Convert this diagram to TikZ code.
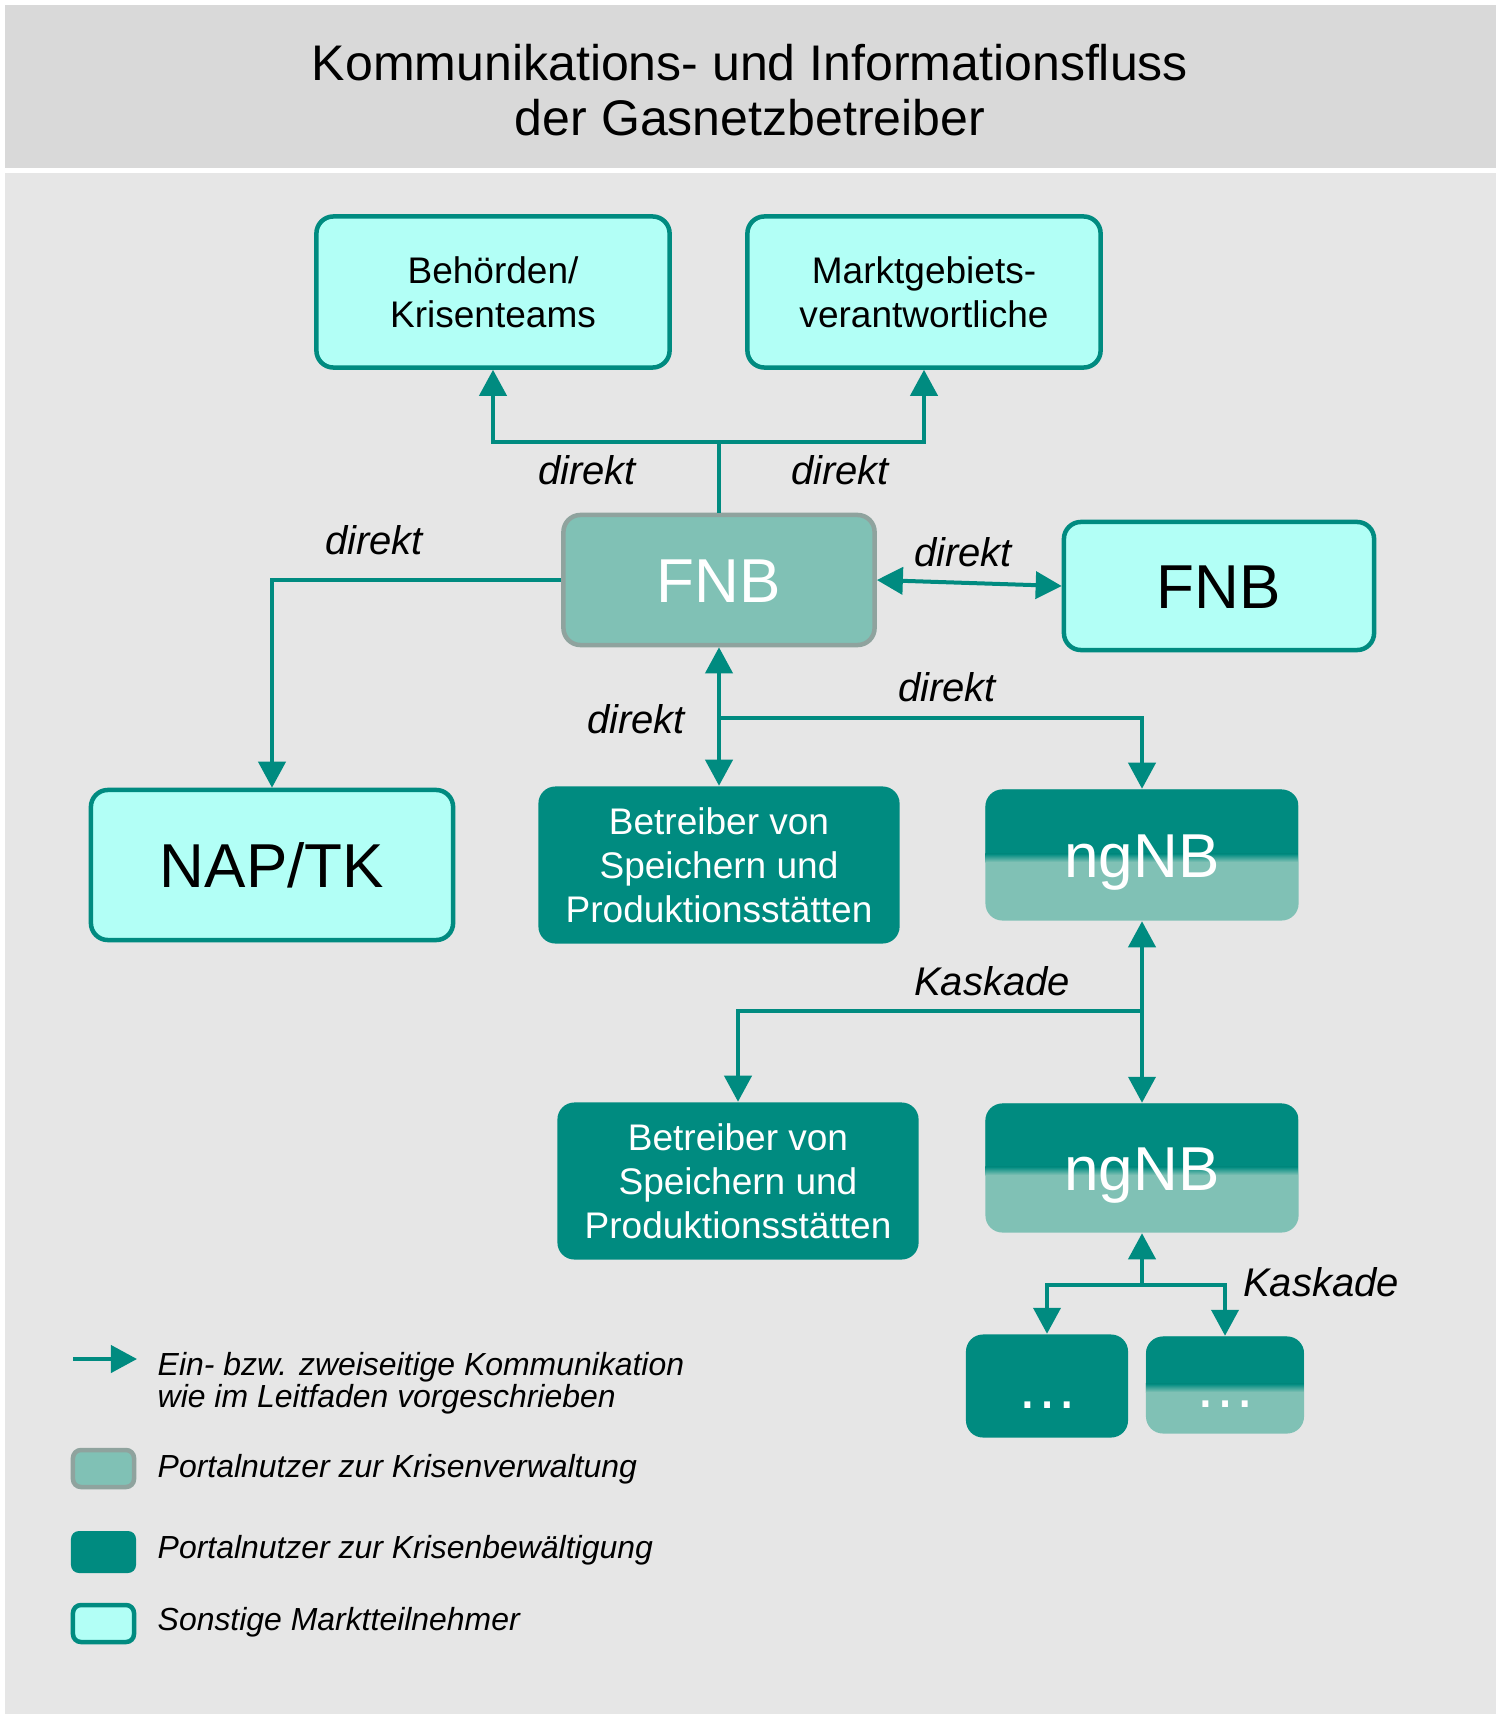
\documentclass[tikz,border=0pt]{standalone}
\usepackage{fontspec}
\setmainfont{Liberation Sans}
\usetikzlibrary{arrows.meta}

\definecolor{tealdark}{RGB}{0,139,128}
\definecolor{teallight}{RGB}{128,193,181}
\definecolor{cyanfill}{RGB}{178,255,246}
\definecolor{graybord}{RGB}{143,163,158}
\definecolor{bgmain}{RGB}{230,230,230}
\definecolor{bgtitle}{RGB}{217,217,217}

\begin{document}
\begin{tikzpicture}[x=0.01cm,y=-0.01cm,
  box/.style={rounded corners=0.17cm, inner sep=0pt, align=center,
    font=\fontsize{10.53}{12.52}\selectfont},
  other/.style={box, draw=tealdark, line width=0.045cm, fill=cyanfill, text=black},
  admin/.style={box, draw=graybord, line width=0.045cm, fill=teallight, text=white},
  crisis/.style={box, fill=tealdark, text=white},
  mixed/.style={box, fill=teallight, text=white,
    path picture={
      \fill[tealdark, sharp corners] (path picture bounding box.north west) rectangle ([yshift=0.01cm]path picture bounding box.east);
      \shade[top color=tealdark, bottom color=teallight, sharp corners] ([yshift=0.012cm]path picture bounding box.west) rectangle ([yshift=-0.07cm]path picture bounding box.east);
    }},
  big/.style={font=\fontsize{17.64}{20}\selectfont, text height=0.444cm, text depth=0pt},
  lbl/.style={font=\fontsize{11.38}{13}\selectfont\itshape, inner sep=0pt},
  legtext/.style={font=\fontsize{9.08}{9.1}\selectfont\itshape, inner sep=0pt, align=left},
  flow/.style={draw=tealdark, line width=0.04cm},
  >={Triangle[length=0.26cm,width=0.27cm]}
]
  % background and title
  \fill[white] (0,0) rectangle (1501,1719);
  \fill[bgtitle] (5,5) rectangle (1496,168);
  \fill[bgmain] (5,173) rectangle (1496,1714);
  \node[align=center, font=\fontsize{14.23}{15.65}\selectfont] (title) at (750,90)
    {Kommunikations- und Informationsfluss\\der Gasnetzbetreiber};

  % boxes
  \node[other, minimum width=3.53cm, minimum height=1.51cm] (behoerden) at (493,292) {Behörden/\\Krisenteams};
  \node[other, minimum width=3.53cm, minimum height=1.51cm] (mgv) at (924,292) {Marktgebiets-\\verantwortliche};
  \node[admin, big, minimum width=3.11cm, minimum height=1.30cm] (fnb) at (719,580) {FNB};
  \node[other, big, minimum width=3.10cm, minimum height=1.28cm] (fnbr) at (1219,586) {FNB};
  \node[other, big, minimum width=3.62cm, minimum height=1.50cm] (nap) at (272,865) {NAP/TK};
  \node[crisis, minimum width=3.61cm, minimum height=1.57cm] (spei1) at (719,865) {Betreiber von\\Speichern und\\Produktionsstätten};
  \node[mixed, big, minimum width=3.13cm, minimum height=1.31cm] (ngnb1) at (1142,855) {ngNB};
  \node[crisis, minimum width=3.61cm, minimum height=1.57cm] (spei2) at (738,1181) {Betreiber von\\Speichern und\\Produktionsstätten};
  \node[mixed, big, minimum width=3.13cm, minimum height=1.29cm] (ngnb2) at (1142,1168) {ngNB};
  \node[crisis, big, minimum width=1.62cm, minimum height=1.03cm] (dots1) at (1047,1386) {…};
  \node[mixed, big, minimum width=1.58cm, minimum height=0.97cm] (dots2) at (1225,1385) {…};

  % connectors
  \coordinate (jtop) at (719,442);
  \draw[flow,->] (fnb.north) -- (jtop) -| (behoerden.south);
  \draw[flow,->] (jtop) -| (mgv.south);
  \draw[flow,->] (fnb.west) -| (nap.north);
  \draw[flow,<->] (fnb.east) -- (fnbr.west);
  \draw[flow,<->] (fnb.south) -- (spei1.north);
  \coordinate (jmid) at (719,718);
  \draw[flow,->] (jmid) -| (ngnb1.north);
  \coordinate (jk1) at (1142,1011);
  \draw[flow,->] (jk1) -- (ngnb1.south);
  \draw[flow,->] (jk1) -- (ngnb2.north);
  \draw[flow,->] (jk1) -| (spei2.north);
  \coordinate (jk2) at (1142,1285);
  \draw[flow,->] (jk2) -- (ngnb2.south);
  \draw[flow,->] (jk2) -| (dots1.north);
  \draw[flow,->] (jk2) -| (dots2.north);

  % labels
  \node[lbl] (d1) at (587,470) {direkt};
  \node[lbl] (d2) at (840,470) {direkt};
  \node[lbl] (d3) at (374,540) {direkt};
  \node[lbl] (d4) at (963,552) {direkt};
  \node[lbl] (d5) at (636,719) {direkt};
  \node[lbl] (d6) at (947,687) {direkt};
  \node[lbl] (k1) at (992,981) {Kaskade};
  \node[lbl] (k2) at (1321,1282) {Kaskade};

  % legend
  \coordinate (lgs) at (73,1359);
  \coordinate (lge) at (137,1359);
  \draw[flow,->] (lgs) -- (lge);
  \node[legtext, anchor=west] (lt1) at (157,1383) {Ein- bzw. zweiseitige Kommunikation\\wie im Leitfaden vorgeschrieben};
  \node[admin, rounded corners=0.08cm, minimum width=0.61cm, minimum height=0.37cm] (lb1) at (103.5,1468.5) {};
  \node[legtext, anchor=base west] (lt2) at (157,1477) {Portalnutzer zur Krisenverwaltung};
  \node[crisis, rounded corners=0.08cm, minimum width=0.65cm, minimum height=0.42cm] (lb2) at (103.5,1552) {};
  \node[legtext, anchor=base west] (lt3) at (157,1558) {Portalnutzer zur Krisenbewältigung};
  \node[other, rounded corners=0.08cm, minimum width=0.61cm, minimum height=0.37cm] (lb3) at (103.5,1623.5) {};
  \node[legtext, anchor=base west] (lt4) at (157,1630) {Sonstige Marktteilnehmer};
\end{tikzpicture}
\end{document}
